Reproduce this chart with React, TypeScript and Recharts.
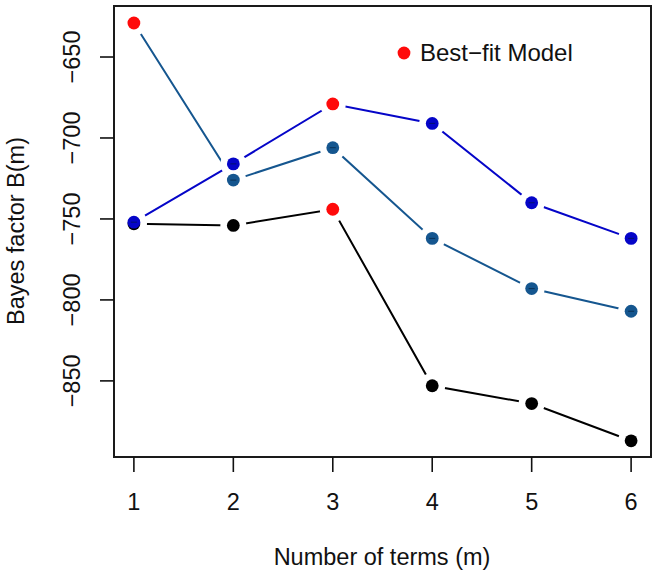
import React from 'react';
import { LineChart, Line, XAxis, YAxis, ReferenceArea, Legend } from 'recharts';

const terms = [1, 2, 3, 4, 5, 6];
const xTicks = [1, 2, 3, 4, 5, 6];
const yTicks = [-850, -800, -750, -700, -650];

// three model families
const steelSeries = [-629, -726, -706, -762, -793, -807];
const blueSeries = [-752, -716, -679, -691, -740, -762];
const blackSeries = [-753, -754, -744, -853, -864, -887];

// index of the best-fit model in each series (drawn red)
const steelBest = 0;
const blueBest = 2;
const blackBest = 2;

const X_DOMAIN = [0.8, 6.2];
const Y_DOMAIN = [-897, -618.5];

const data = terms.map((m, i) => ({
  m,
  steel: steelSeries[i],
  blue: blueSeries[i],
  black: blackSeries[i],
}));

const FONT = '"Liberation Sans", Arial, Helvetica, sans-serif';
const STEEL = '#15568f';
const BLUE = '#0505c8';
const RED = '#ff0a0a';

const minus = (v: number) => String(v).replace('-', '\u2212');

// white disc that opens a gap in the lines round each point (R type="b")
const halo = (props: any) => {
  const { cx, cy, index } = props;
  return <circle key={'h' + index} cx={cx} cy={cy} r={13} fill="#fff" stroke="none" />;
};

const makeDot = (color: string, best: number, dash: boolean) => (props: any) => {
  const { cx, cy, index } = props;
  const isBest = index === best;
  return (
    <g key={'d' + index}>
      <circle cx={cx} cy={cy} r={6.4} fill={isBest ? RED : color} stroke="none" />
      {dash && !isBest && (
        <line x1={cx - 3} y1={cy} x2={cx + 3} y2={cy} stroke="#031a33" strokeWidth={1} opacity={0.6} />
      )}
    </g>
  );
};

const YTick = (props: any) => {
  const { y, payload } = props;
  return (
    <text x={72} y={y} transform={`rotate(-90, 72, ${y})`} textAnchor="middle" dominantBaseline="central"
      fontSize={23.5} fontFamily={FONT} fill="#111">
      {minus(payload.value)}
    </text>
  );
};

const LegendBox = () => (
  <div style={{ display: 'flex', alignItems: 'center', fontFamily: FONT, fontSize: 24, lineHeight: '28px', color: '#111' }}>
    <svg width={14} height={14}>
      <circle cx={7} cy={7} r={6.4} fill={RED} />
    </svg>
    <span style={{ marginLeft: 9, whiteSpace: 'nowrap' }}>Best{'\u2212'}fit Model</span>
  </div>
);

export default function App() {
  return (
    <div style={{ position: 'absolute', left: 0, top: 0, width: 658, height: 578, background: '#fff', fontFamily: FONT }}>
      <LineChart width={658} height={578} data={data} margin={{ top: 6, right: 7, left: 0, bottom: 0 }}>
        <XAxis dataKey="m" type="number" domain={X_DOMAIN} ticks={xTicks} axisLine={false} tickSize={15} tickMargin={21}
          tickLine={{ stroke: '#111', strokeWidth: 1.6 }} tick={{ fontSize: 23.5, fill: '#111', fontFamily: FONT }}
          height={121} />
        <YAxis type="number" domain={Y_DOMAIN} ticks={yTicks} axisLine={false} tickSize={14}
          tickLine={{ stroke: '#111', strokeWidth: 1.6 }} tick={<YTick />} width={114} />
        <ReferenceArea x1={X_DOMAIN[0]} x2={X_DOMAIN[1]} y1={Y_DOMAIN[0]} y2={Y_DOMAIN[1]} fill="none" stroke="#1a1a1a" strokeWidth={2} />
        <Legend layout="horizontal" align="center" verticalAlign="middle" content={<LegendBox />}
          wrapperStyle={{ top: 39, left: 397, width: 'auto' }} />

        {/* lines */}
        <Line dataKey="black" stroke="#000" strokeWidth={2} dot={false} activeDot={false} isAnimationActive={false} legendType="none" />
        <Line dataKey="blue" stroke={BLUE} strokeWidth={2} dot={false} activeDot={false} isAnimationActive={false} legendType="none" />
        <Line dataKey="steel" stroke={STEEL} strokeWidth={2} dot={false} activeDot={false} isAnimationActive={false} legendType="none" />

        {/* gaps */}
        <Line dataKey="black" stroke="none" dot={halo} activeDot={false} isAnimationActive={false} legendType="none" />
        <Line dataKey="blue" stroke="none" dot={halo} activeDot={false} isAnimationActive={false} legendType="none" />
        <Line dataKey="steel" stroke="none" dot={halo} activeDot={false} isAnimationActive={false} legendType="none" />

        {/* points */}
        <Line dataKey="black" stroke="none" dot={makeDot('#000', blackBest, false)} activeDot={false} isAnimationActive={false} legendType="none" />
        <Line dataKey="steel" stroke="none" dot={makeDot(STEEL, steelBest, true)} activeDot={false} isAnimationActive={false} legendType="none" />
        <Line dataKey="blue" stroke="none" dot={makeDot(BLUE, blueBest, true)} activeDot={false} isAnimationActive={false} legendType="none" />
      </LineChart>

      <div style={{ position: 'absolute', left: 16, top: 231, transform: 'translate(-50%, -50%) rotate(-90deg)', whiteSpace: 'nowrap', fontSize: 23.5, color: '#111' }}>
        Bayes factor B(m)
      </div>
      <div style={{ position: 'absolute', left: 382, top: 557, transform: 'translate(-50%, -50%)', whiteSpace: 'nowrap', fontSize: 23.5, color: '#111' }}>
        Number of terms (m)
      </div>
    </div>
  );
}
